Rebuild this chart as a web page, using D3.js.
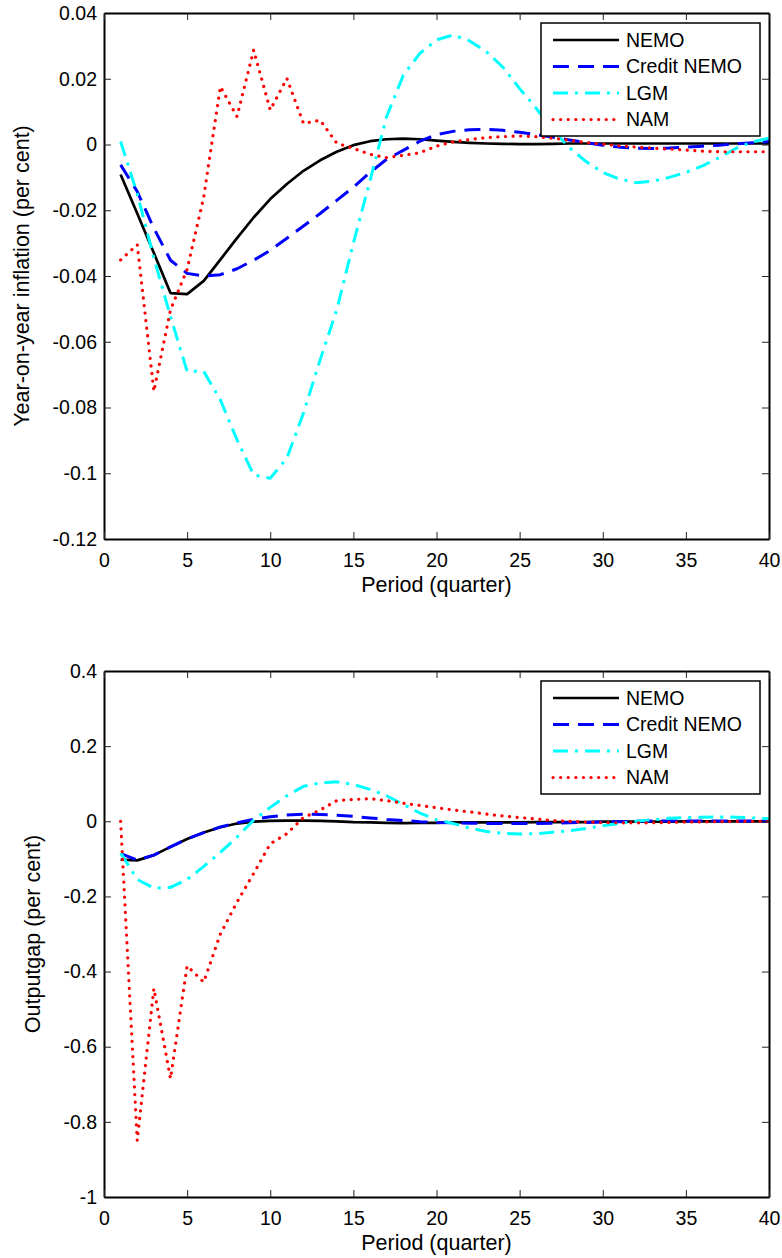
<!DOCTYPE html>
<html><head><meta charset="utf-8">
<script src="https://cdn.jsdelivr.net/npm/d3@7/dist/d3.min.js"></script>
<style>
body{margin:0;background:#fff}
text{font-family:"Liberation Sans",Arial,Helvetica,sans-serif;fill:#000}
</style>
</head><body>
<svg id="chart" width="782" height="1258"></svg>
<script>
// ---------------- data ----------------
const periods = d3.range(1, 41);
const seriesNames = ["NEMO", "Credit NEMO", "LGM", "NAM"];
const xTicks = [0, 5, 10, 15, 20, 25, 30, 35, 40];
const inflTicks = [-0.12, -0.1, -0.08, -0.06, -0.04, -0.02, 0, 0.02, 0.04];
const gapTicks = [-1, -0.8, -0.6, -0.4, -0.2, 0, 0.2, 0.4];

const inflNEMO = [-0.0091,-0.0210,-0.0330,-0.0452,-0.0455,-0.0415,-0.0350,-0.0285,-0.0222,-0.0166,
  -0.0120,-0.0080,-0.0048,-0.0022,-0.0002,0.0010,0.0016,0.0018,0.0016,0.0012,
  0.0008,0.0005,0.0003,0.0002,0.0001,0.0001,0.0002,0.0003,0.0003,0.0003,
  0.0003,0.0003,0.0003,0.0003,0.0003,0.0003,0.0003,0.0003,0.0003,0.0003];
const inflCredit = [-0.0062,-0.0143,-0.0255,-0.0352,-0.0392,-0.0400,-0.0396,-0.0378,-0.0352,-0.0322,
  -0.0285,-0.0248,-0.0210,-0.0170,-0.0130,-0.0085,-0.0045,-0.0018,0.0010,0.0030,
  0.0040,0.0045,0.0046,0.0043,0.0037,0.0030,0.0022,0.0014,0.0006,-0.0002,
  -0.0008,-0.0011,-0.0012,-0.0011,-0.0008,-0.0005,-0.0002,0.0002,0.0005,0.0009];
const inflLGM = [0.0009,-0.0150,-0.0345,-0.0523,-0.0690,-0.0690,-0.0777,-0.0898,-0.1005,-0.1015,
  -0.0954,-0.0817,-0.0655,-0.0503,-0.0300,-0.0110,0.0085,0.0210,0.0277,0.0318,
  0.0333,0.0315,0.0282,0.0235,0.0170,0.0110,0.0044,-0.0010,-0.0052,-0.0085,
  -0.0105,-0.0116,-0.0112,-0.0100,-0.0085,-0.0065,-0.0040,-0.0012,0.0008,0.0019];
const inflNAM = [-0.0351,-0.0305,-0.0751,-0.0503,-0.0380,-0.0160,0.0176,0.0085,0.0287,0.0105,
  0.0201,0.0064,0.0074,0.0004,-0.0012,-0.0030,-0.0040,-0.0033,-0.0025,-0.0005,
  0.0008,0.0015,0.0021,0.0024,0.0026,0.0024,0.0019,0.0013,0.0006,0.0001,
  -0.0004,-0.0008,-0.0011,-0.0014,-0.0017,-0.0020,-0.0022,-0.0022,-0.0022,-0.0022];

const gapNEMO = [-0.102,-0.104,-0.090,-0.068,-0.047,-0.030,-0.016,-0.006,-0.001,0.001,
  0.002,0.002,0.001,0.000,-0.002,-0.003,-0.004,-0.005,-0.004,-0.004,
  -0.003,-0.003,-0.003,-0.003,-0.003,-0.002,-0.002,-0.002,-0.002,-0.001,
  -0.001,-0.001,-0.001,-0.001,0.000,0.000,0.000,0.000,0.000,0.000];
const gapCredit = [-0.086,-0.103,-0.090,-0.068,-0.047,-0.030,-0.015,-0.004,0.005,0.012,
  0.017,0.019,0.018,0.016,0.013,0.009,0.005,0.002,-0.001,-0.003,
  -0.004,-0.005,-0.006,-0.006,-0.006,-0.006,-0.005,-0.004,-0.003,-0.002,
  -0.001,0.000,0.0005,0.001,0.001,0.001,0.001,0.001,0.001,0.001];
const gapLGM = [-0.084,-0.155,-0.178,-0.176,-0.155,-0.120,-0.083,-0.042,0.003,0.037,
  0.068,0.093,0.102,0.105,0.098,0.085,0.068,0.045,0.022,0.004,
  -0.006,-0.018,-0.027,-0.032,-0.034,-0.033,-0.029,-0.025,-0.019,-0.012,
  -0.006,0.000,0.004,0.008,0.010,0.011,0.0115,0.011,0.009,0.007];
const gapNAM = [0.000,-0.850,-0.445,-0.685,-0.385,-0.428,-0.300,-0.215,-0.139,-0.060,
  -0.033,0.010,0.030,0.055,0.058,0.060,0.055,0.048,0.042,0.036,
  0.030,0.025,0.019,0.014,0.010,0.006,0.002,0.000,-0.002,-0.0035,
  -0.004,-0.004,-0.004,-0.003,-0.002,-0.0015,-0.001,-0.0005,0.000,0.000];

// ---------------- styles ----------------
const styles = [
  {color:"#000000", width:2.7, dash:null, cap:"butt"},
  {color:"#0000ff", width:3, dash:"16,9", cap:"butt"},
  {color:"#00ffff", width:3, dash:"15,7,3,7", cap:"butt"},
  {color:"#ff0000", width:3.2, dash:"0.1,7.5", cap:"round"}
];

const svg = d3.select("#chart");
const FS = 19.5;   // tick / legend text
const LFS = 21.5;  // axis label text

function panel(cfg) {
  const x = d3.scaleLinear().domain([0, 40]).range([104, 769]);
  const y = d3.scaleLinear().domain(cfg.yDomain).range([cfg.bottom, cfg.top]);
  const g = svg.append("g");
  const fmt = v => String(+v.toFixed(2));

  // data lines
  const line = d3.line().x((d, i) => x(periods[i])).y(d => y(d));
  cfg.series.forEach((s, k) => {
    const st = styles[k];
    g.append("path").datum(s).attr("d", line)
      .attr("fill", "none").attr("stroke", st.color).attr("stroke-width", st.width)
      .attr("stroke-dasharray", st.dash).attr("stroke-linecap", st.cap)
      .attr("stroke-linejoin", "round");
  });

  // axes
  const left = g.append("g").attr("transform", `translate(${x(0)},0)`)
    .call(d3.axisLeft(y).tickValues(cfg.yTicks).tickFormat(fmt).tickSizeInner(-7).tickSizeOuter(0).tickPadding(7));
  const right = g.append("g").attr("transform", `translate(${x(40)},0)`)
    .call(d3.axisRight(y).tickValues(cfg.yTicks).tickFormat("").tickSizeInner(-7).tickSizeOuter(0));
  const bottom = g.append("g").attr("transform", `translate(0,${cfg.bottom})`)
    .call(d3.axisBottom(x).tickValues(xTicks).tickFormat(d3.format("d")).tickSizeInner(-7).tickSizeOuter(0).tickPadding(14));
  const top = g.append("g").attr("transform", `translate(0,${cfg.top})`)
    .call(d3.axisTop(x).tickValues(xTicks).tickFormat("").tickSizeInner(-7).tickSizeOuter(0));
  [left, right, bottom, top].forEach(a => {
    a.select(".domain").attr("stroke", "#000").attr("stroke-width", 2);
    a.selectAll(".tick line").attr("stroke", "#222").attr("stroke-width", 1);
    a.selectAll("text").attr("font-size", FS).attr("font-family", "Liberation Sans, Arial, sans-serif").attr("fill", "#000");
  });

  // axis labels
  g.append("text").attr("x", (x(0) + x(40)) / 2).attr("y", cfg.bottom + 53)
    .attr("text-anchor", "middle").attr("font-size", LFS).text("Period (quarter)");
  g.append("text")
    .attr("transform", `translate(${cfg.yLabelX},${(cfg.top + cfg.bottom) / 2}) rotate(-90)`)
    .attr("text-anchor", "middle").attr("font-size", LFS).text(cfg.yLabel);

  // legend
  const lx = 541, ly = cfg.top + 10, lw = 219, lh = 113;
  const leg = g.append("g");
  leg.append("rect").attr("x", lx).attr("y", ly).attr("width", lw).attr("height", lh)
    .attr("fill", "#fff").attr("stroke", "#000").attr("stroke-width", 1.5);
  seriesNames.forEach((name, k) => {
    const st = styles[k];
    const yy = ly + 17 + k * 26.5;
    leg.append("line").attr("x1", 553).attr("x2", 619).attr("y1", yy).attr("y2", yy)
      .attr("stroke", st.color).attr("stroke-width", st.width)
      .attr("stroke-dasharray", st.dash).attr("stroke-linecap", st.cap);
    leg.append("text").attr("x", 626).attr("y", yy).attr("dy", "0.35em")
      .attr("font-size", FS).text(name);
  });
}

panel({top: 13, bottom: 539, yDomain: [-0.12, 0.04], yTicks: inflTicks,
  series: [inflNEMO, inflCredit, inflLGM, inflNAM],
  yLabel: "Year-on-year inflation (per cent)", yLabelX: 29});
panel({top: 671, bottom: 1197, yDomain: [-1, 0.4], yTicks: gapTicks,
  series: [gapNEMO, gapCredit, gapLGM, gapNAM],
  yLabel: "Outputgap (per cent)", yLabelX: 40});
</script>
</body></html>
